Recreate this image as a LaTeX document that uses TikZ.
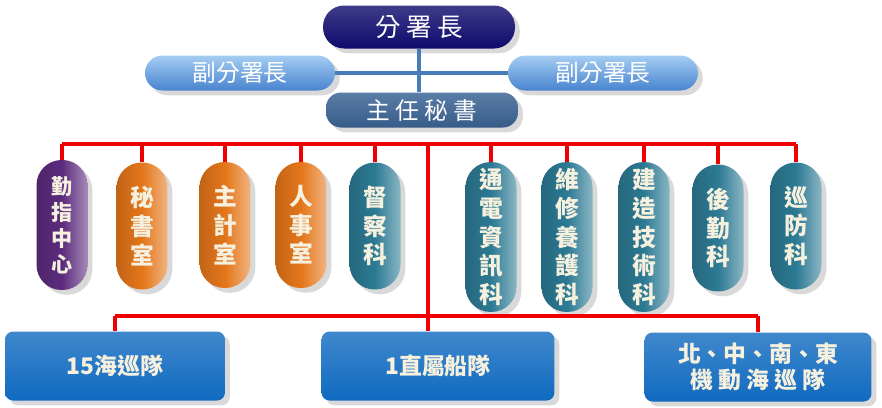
\documentclass[tikz,border=0pt]{standalone}
\usepackage{fontspec}
\setmainfont{Noto Sans CJK TC}
\definecolor{orChief}{RGB}{14,10,108}
\definecolor{orDeputyTop}{RGB}{165,205,242}
\definecolor{orDeputyBot}{RGB}{72,132,208}
\definecolor{orSecretary}{RGB}{62,102,152}
\definecolor{orCenter}{RGB}{92,44,126}
\definecolor{orOffice}{RGB}{228,118,26}
\definecolor{orSection}{RGB}{44,122,148}
\definecolor{orUnit}{RGB}{16,106,192}
\definecolor{orLink}{RGB}{70,125,185}
\definecolor{orBus}{RGB}{238,0,0}
\definecolor{orLabel}{RGB}{246,240,222}
\usepackage{tikz}
\usetikzlibrary{shapes,arrows,positioning,shadows}

\begin{document}
\begin{tikzpicture}[x=0.02cm,y=-0.02cm,
    head/.style={draw=none, rounded corners=0.42cm, minimum width=3.84cm, minimum height=0.86cm, text=white, font=\fontsize{14.5}{16}\selectfont, drop shadow={opacity=0.3}},
    deputy/.style={head, minimum width=3.8cm, minimum height=0.7cm, rounded corners=0.35cm, top color=orDeputyTop, bottom color=orDeputyBot, font=\fontsize{13.5}{16}\selectfont},
    pill/.style={draw=none, rounded corners=0.5cm, minimum width=1.02cm, text=orLabel, align=center, font=\bfseries\fontsize{13.5}{16.3}\selectfont, left color=#1!85!black, right color=#1!55!white, middle color=#1, drop shadow={opacity=0.3}},
    unit/.style={draw=none, rounded corners=0.16cm, minimum height=1.38cm, text=orLabel, align=center, font=\bfseries\fontsize{13}{15}\selectfont, top color=orUnit!80!white, bottom color=orUnit, drop shadow={opacity=0.3}},
    link/.style={draw=orLink, line width=2.3pt},
    bus/.style={draw=orBus, line width=2pt}]

    % page area
    \useasboundingbox (0,0) rectangle (882,407);

    % top management
    \node[head, top color=orChief!80!white, bottom color=orChief] (chief) at (419,27) {分 署 長};
    \node[deputy] (depL) at (240,73) {副分署長};
    \node[deputy] (depR) at (603,73) {副分署長};
    \node[head, minimum height=0.7cm, rounded corners=0.3cm, top color=orSecretary!85!white, bottom color=orSecretary!90!black, font=\fontsize{13.5}{16}\selectfont] (sec) at (422,110) {主 任 秘 書};

    % blue links
    \draw[link] (depL.east) -- (depR.west);
    \draw[link] (chief.south) -- (chief.south |- sec.north);

    % offices and sections
    \node[pill=orCenter, minimum height=2.6cm, font=\bfseries\fontsize{12}{14.8}\selectfont] (cmd) at (62,225) {勤\\指\\中\\心};
    \node[pill=orOffice, minimum height=2.54cm] (sect) at (142,226) {秘\\書\\室};
    \node[pill=orOffice, minimum height=2.52cm] (acct) at (225,225) {主\\計\\室};
    \node[pill=orOffice, minimum height=2.52cm] (pers) at (301,225) {人\\事\\室};
    \node[pill=orSection, minimum height=2.54cm] (insp) at (375,226) {督\\察\\科};
    \node[pill=orSection, minimum height=3cm] (comm) at (491,237) {通\\電\\資\\訊\\科};
    \node[pill=orSection, minimum height=3cm] (mnt) at (567,237) {維\\修\\養\\護\\科};
    \node[pill=orSection, minimum height=3cm] (bld) at (644,237) {建\\造\\技\\術\\科};
    \node[pill=orSection, minimum height=2.54cm] (lgs) at (718,228) {後\\勤\\科};
    \node[pill=orSection, minimum height=2.54cm] (ptl) at (796,226) {巡\\防\\科};

    % field units
    \node[unit, minimum width=4.4cm] (sq15) at (115,366) {15海巡隊};
    \node[unit, minimum width=4.66cm] (ship) at (438,366) {1直屬船隊};
    \node[unit, minimum width=4.54cm] (coast) at (758,367) {北、中、南、東\\機 動 海 巡 隊};

    % red buses
    \coordinate (busTop) at (62,144);
    \coordinate (trunk) at (428,144);
    \coordinate (busLow) at (115,316);
    \draw[bus] (cmd.north |- busTop) -- (ptl.north |- busTop);
    \foreach \n in {cmd,sect,acct,pers,insp,comm,mnt,bld,lgs,ptl}
        \draw[bus] (\n.north) -- (\n.north |- busTop);
    \draw[bus] (trunk) -- (trunk |- ship.north);
    \draw[bus] (sq15.north |- busLow) -- (coast.north |- busLow);
    \draw[bus] (sq15.north) -- (sq15.north |- busLow);
    \draw[bus] (coast.north) -- (coast.north |- busLow);
\end{tikzpicture}
\end{document}
